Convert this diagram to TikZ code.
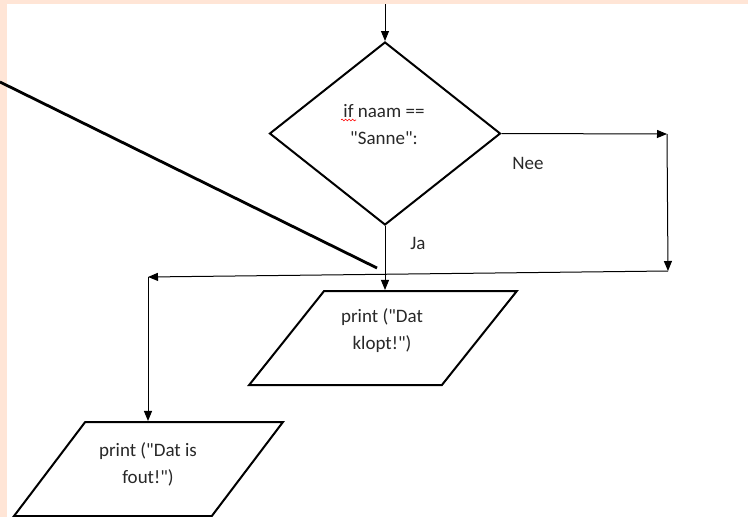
\documentclass[tikz,border=0pt]{standalone}
\usepackage{fontspec}
\setmainfont{Carlito}
\usetikzlibrary{shapes.geometric,arrows.meta,decorations.pathmorphing}
\definecolor{pagepeach}{RGB}{255,229,214}
\definecolor{inkgray}{RGB}{40,40,40}
\newcommand{\qq}{\textquotedbl}

\begin{document}
\begin{tikzpicture}[x=1pt, y=-1pt, font=\fontsize{19}{27}\selectfont,
  flow/.style={-{Triangle[length=10pt,width=8pt]}, line width=1pt},
  keuze/.style={diamond, draw, line width=2pt, minimum width=231pt, minimum height=183pt, inner sep=0pt},
  uitvoer/.style={trapezium, trapezium stretches=true, draw, line width=2pt, inner sep=0pt, minimum height=94pt},
  txt/.style={align=center, text=inkgray, inner sep=0pt}]
\useasboundingbox (0,0) rectangle (748,517);
% page edge and white sheet
\fill[pagepeach] (0,0) rectangle (748,517);
\fill[white] (7,4) rectangle (748,517);

% shapes
\node[keuze] (vraag) at (385,133.5) {};
\node[txt] (vraagtxt) at (384,125) {if naam ==\\\qq Sanne\qq:};
\node[uitvoer, trapezium left angle=60, trapezium right angle=120, minimum width=268pt] (klopt) at (383,338) {\phantom{x}};
\node[txt] (kloptxt) at (382,331) {print (\qq Dat\\klopt!\qq)};
\node[uitvoer, trapezium left angle=63, trapezium right angle=117, minimum width=269pt] (fout) at (148.5,469) {\phantom{x}};
\node[txt] (fouttxt) at (148,464) {print (\qq Dat is\\fout!\qq)};
\draw[red, line width=0.6pt, decorate, decoration={snake, amplitude=0.9pt, segment length=3.5pt}] (341,120) -- (356,120);

% branch labels
\node[txt] (ja) at (418,243) {Ja};
\node[txt] (nee) at (528,163) {Nee};

% connectors
\coordinate (start) at (385,4);
\coordinate (hoekA) at (667,134);
\coordinate (hoekB) at (668,271);
\coordinate (samen) at (148,277);
\draw[flow] (start) -- (vraag.north);
\draw[flow] (vraag.south) -- (vraag.south |- klopt.north);
\draw[flow] (vraag.east) -- (hoekA);
\draw[flow] (hoekA) -- (hoekB);
\draw[flow] (hoekB) -- (samen);
\draw[flow] (samen) -- (samen |- fout.north);

% loose pointer line
\coordinate (wijsA) at (0,82);
\coordinate (wijsB) at (377,268);
\draw[line width=2.8pt] (wijsA) -- (wijsB);
\end{tikzpicture}
\end{document}
